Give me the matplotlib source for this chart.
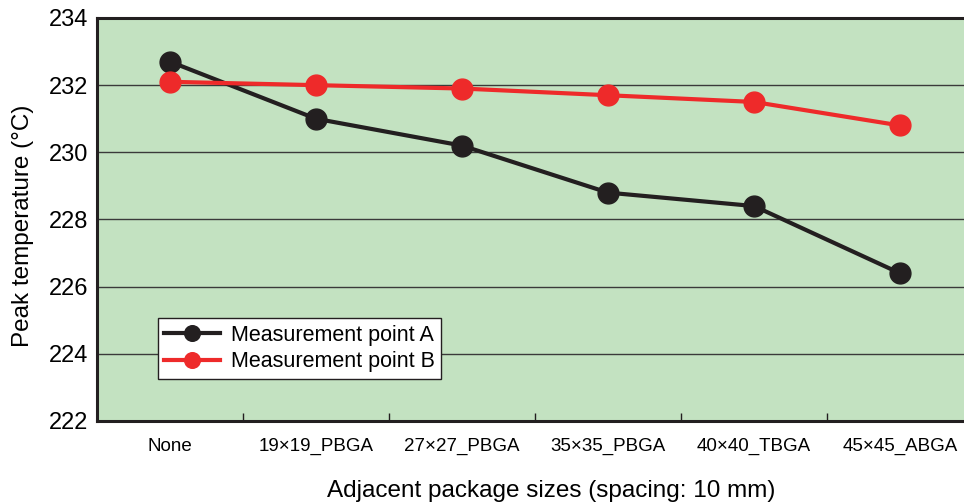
import matplotlib
matplotlib.use("Agg")
import matplotlib.pyplot as plt
import numpy as np

plt.rcParams['font.family'] = ['Liberation Sans', 'DejaVu Sans']

# data
packages = ['None', '19\u00d719_PBGA', '27\u00d727_PBGA', '35\u00d735_PBGA',
            '40\u00d740_TBGA', '45\u00d745_ABGA']
point_a = [232.7, 231.0, 230.2, 228.8, 228.4, 226.4]
point_b = [232.1, 232.0, 231.9, 231.7, 231.5, 230.8]
yticks = [222, 224, 226, 228, 230, 232, 234]

fig = plt.figure(figsize=(9.64, 5.04), dpi=100)
ax = fig.add_axes([0.1006, 0.1647, 0.9087, 0.7996])
ax.set_facecolor('#c3e2c1')

x = np.arange(len(packages))
ax.plot(x, point_a, '-o', color='#231f20', lw=3, ms=15, label='Measurement point A', zorder=3)
ax.plot(x, point_b, '-o', color='#ee2a2a', lw=3, ms=15, label='Measurement point B', zorder=3)

ax.set_xlim(-0.5, len(packages) - 0.5)
ax.set_ylim(222, 234)
ax.set_yticks(yticks)
ax.tick_params(axis='y', length=0, labelsize=17, pad=6)
ax.set_xticks(x)
ax.set_xticklabels(packages, fontsize=13.5)
ax.tick_params(axis='x', which='major', length=0, pad=12)
ax.set_xticks(x[:-1] + 0.5, minor=True)
ax.tick_params(axis='x', which='minor', direction='in', length=6, width=1, color='#231f20')
ax.yaxis.grid(True, color='#3a3a3a', lw=1)
ax.set_axisbelow(True)

for s in ['left', 'bottom', 'top']:
    ax.spines[s].set_linewidth(2.2)
    ax.spines[s].set_color('#231f20')
ax.spines['right'].set_visible(False)

ax.set_xlabel('Adjacent package sizes (spacing: 10 mm)', fontsize=17.5)
ax.xaxis.set_label_coords(0.518, -0.146)
ax.set_ylabel('Peak temperature (\u00b0C)', fontsize=17.5)
ax.yaxis.set_label_coords(-0.072, 0.484)

leg = ax.legend(loc='lower left', bbox_to_anchor=(0.057, 0.078), fontsize=15.5,
                frameon=True, fancybox=False, edgecolor='#231f20', framealpha=1,
                handlelength=2.6, borderpad=0.3, labelspacing=0.25, handletextpad=0.5,
                markerscale=0.75)
leg.get_frame().set_linewidth(1)

fig.savefig('out.png', dpi=100)
